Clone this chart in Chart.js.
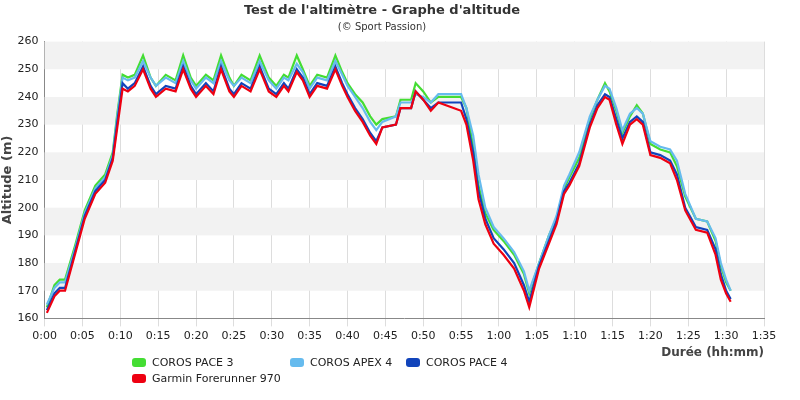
<!DOCTYPE html>
<html><head><meta charset="utf-8">
<script src="https://cdn.jsdelivr.net/npm/chart.js@4"></script>
<style>body{margin:0;background:#fff;font-family:"DejaVu Sans";}
#wrap{position:relative;width:800px;height:400px;}
.lg{position:absolute;font-size:11px;color:#222;display:flex;align-items:center;}
.lg span{display:inline-block;width:14px;height:9px;border-radius:3px;margin-right:6px;}
</style></head><body>
<div id="wrap"><canvas id="c" width="800" height="400"></canvas>
<div class="lg" style="left:132px;top:356px"><span style="background:#44dd33"></span>COROS PACE 3</div>
<div class="lg" style="left:290px;top:356px"><span style="background:#66bbee"></span>COROS APEX 4</div>
<div class="lg" style="left:406px;top:356px"><span style="background:#1144bb"></span>COROS PACE 4</div>
<div class="lg" style="left:132px;top:372px"><span style="background:#ee0011"></span>Garmin Forerunner 970</div>
</div>
<script>
const minutes = [0.3,1.3,2,2.7,4,5.3,6.7,8,9,9.6,10.3,11,11.9,13,14,14.7,16,17.3,18.3,19.3,20,21.3,22.3,23.3,24.4,25,26,27.2,28.4,29.6,30.6,31.6,32.2,33.3,34.1,35,36,37.3,38.4,39.3,40,41,42,43,43.8,44.6,46.4,47,48.4,49,50,51,52,54,55,55.7,56.6,57.3,58.2,59.3,60.6,62,63.3,64,65.3,66.6,67.6,68.6,69.3,70.6,72,73,74,74.6,75.5,76.3,77.3,78.2,79,80,81.3,82.6,83.5,84.6,86,87.5,88.6,89.3,90,90.6];
const garmin = [162,168,170,170,183,196,205,209,217,229,243,242,244,250,243,240,243,242,250,243,240,244,241,250,242,240,244,242,250,242,240,244,242,249,246,240,244,243,250,244,240,235,231,226,223,229,230,236,236,242,239,235,238,236,235,230,217,203,194,187,183,178,170,164,178,187,194,205,208,215,229,236,240,239,230,223,230,232,230,219,218,216,210,199,192,191,183,174,169,166];
const pace4 = [163,169,171,171,184,197,206,210,218,231,245,243,245,251,244,241,244,243,251,244,241,245,242,251,243,241,245,243,251,243,241,245,243,250,247,241,245,244,251,245,241,236,232,227,224,229,230,236,236,242,239,236,238,238,238,232,220,206,196,189,185,180,172,166,179,188,195,206,209,216,230,237,241,240,232,225,231,233,231,220,219,217,212,200,193,192,185,176,170,167];
const apex4 = [165,171,173,173,185,198,207,211,219,233,247,246,247,253,247,244,247,245,253,246,243,247,245,253,246,244,247,245,253,246,243,247,246,252,249,243,247,246,253,248,244,240,236,231,228,231,233,238,238,241,240,238,241,241,241,236,226,212,200,193,189,184,177,170,180,190,197,208,212,220,233,239,244,243,236,228,234,236,234,224,222,221,217,205,196,195,189,180,174,170];
const pace3 = [164,172,174,174,186,199,208,212,220,234,248,247,248,255,247,244,248,246,255,247,244,248,246,255,247,244,248,246,255,247,244,248,247,255,250,244,248,247,255,249,245,241,238,233,230,232,233,239,239,245,242,238,240,240,240,236,222,208,198,192,188,183,176,169,180,190,196,207,211,218,232,239,245,242,235,227,233,237,234,223,221,220,215,204,196,195,188,179,173,170];
const yTicks = [160,170,180,190,200,210,220,230,240,250,260];
const xTickStep = 5;
const fmt = v => Math.floor(v/60)+':'+String(v%60).padStart(2,'0');
const mk = (label, arr, color, order) => ({label, data: arr.map((y,i)=>({x:minutes[i],y})), borderColor:color, backgroundColor:color, borderWidth:2.2, pointRadius:0, tension:0, order});
const bands = {id:'bands', beforeDatasetsDraw(ch){const {ctx,chartArea:a,scales:{y}}=ch;ctx.save();ctx.fillStyle='#f2f2f2';
 for(let v=170; v<260; v+=20){const t=y.getPixelForValue(v+10),b=y.getPixelForValue(v);ctx.fillRect(a.left,t,a.right-a.left,b-t);}ctx.restore();}};
Chart.defaults.font.family='DejaVu Sans';
new Chart(document.getElementById('c'),{type:'line',
 data:{datasets:[mk('COROS PACE 3',pace3,'#44dd33',4),mk('COROS APEX 4',apex4,'#66bbee',3),mk('COROS PACE 4',pace4,'#1144bb',2),mk('Garmin Forerunner 970',garmin,'#ee0011',1)]},
 options:{responsive:false,animation:false,
  layout:{padding:{left:0,right:36,bottom:36}},
  plugins:{legend:{display:false},tooltip:{enabled:false},
   title:{display:true,text:"Test de l'altimètre - Graphe d'altitude",color:'#333',font:{size:13,weight:'bold'},padding:{top:3,bottom:3}},
   subtitle:{display:true,text:'(© Sport Passion)',color:'#333',font:{size:10},padding:{bottom:8}}},
  scales:{
   x:{type:'linear',min:0,max:95,ticks:{stepSize:xTickStep,callback:v=>fmt(v),color:'#222',font:{size:11},maxRotation:0},
      grid:{color:'#dddddd',drawTicks:true},border:{color:'#888'},
      title:{display:true,text:'Durée (hh:mm)',align:'end',color:'#444',font:{size:12,weight:'bold'},padding:{top:0}}},
   y:{min:160,max:260,afterBuildTicks:s=>{s.ticks=yTicks.map(v=>({value:v}));},ticks:{color:'#222',font:{size:11},padding:2},
      grid:{display:false,drawTicks:true,tickLength:4},border:{color:'#888'},
      title:{display:true,text:'Altitude (m)',color:'#444',font:{size:13,weight:'bold'},padding:0}}}},
 plugins:[bands]});
</script></body></html>
